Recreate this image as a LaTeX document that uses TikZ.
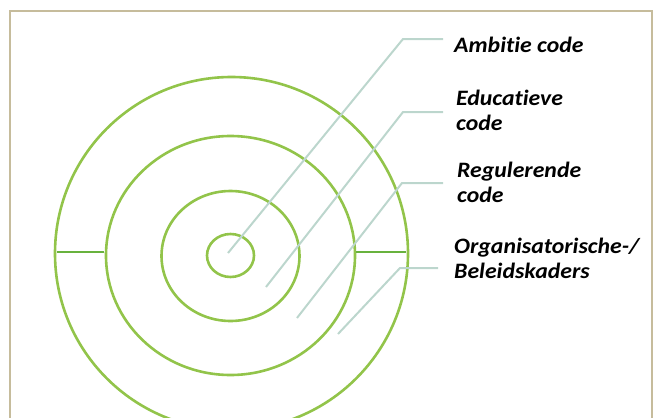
\documentclass[tikz,border=0pt]{standalone}
\usepackage{fontspec}
\newfontfamily\lblfont{Carlito}[FakeStretch=1.08, Ligatures=NoCommon]
\usepackage{tikz}
\definecolor{ringgreen}{RGB}{146,196,74}
\definecolor{bargreen}{RGB}{104,178,62}
\definecolor{leadgray}{RGB}{188,214,205}
\definecolor{frametan}{RGB}{198,188,156}
\tikzset{
  ring/.style={draw=ringgreen, line width=2.6pt},
  bar/.style={draw=bargreen, line width=1.6pt},
  leader/.style={draw=leadgray, line width=2pt},
  lbl/.style={anchor=base west, inner sep=0pt, align=left,
    font=\lblfont\bfseries\itshape\fontsize{22}{24.5}\selectfont},
}

\begin{document}
\begin{tikzpicture}[x=1pt,y=-1pt]
\useasboundingbox (0,0) rectangle (654,418);

% frame
\draw[frametan, line width=2.2pt] (10,425) -- (10,11) -- (652,11) -- (652,425);

% rings, outside in
\draw[ring] (231.5,253.5) ellipse [x radius=176.5, y radius=176.5];
\draw[ring] (230.5,255.5) ellipse [x radius=124.5, y radius=119.5];
\draw[ring] (230.5,256) ellipse [x radius=69, y radius=65];
\draw[ring] (230.5,255.5) ellipse [x radius=23.5, y radius=21.5];

% bars between the two outer rings
\draw[bar] (57,252) -- (104,252);
\draw[bar] (356,252) -- (406,252);

% labels (base = baseline of the last line)
\node[lbl] (ambitie) at (454,52) {Ambitie code};
\node[lbl] (educ) at (456,130) {Educatieve\\code};
\node[lbl] (regul) at (457,202) {Regulerende\\code};
\node[lbl] (organ) at (454,278) {Organisatorische-/\\Beleidskaders};

% leaders
\coordinate (amb0) at (228,253);  \coordinate (amb1) at (403,39);
\coordinate (edu0) at (266,287);  \coordinate (edu1) at (403,112);
\coordinate (reg0) at (297,318);  \coordinate (reg1) at (402,183);
\coordinate (org0) at (338,334);  \coordinate (org1) at (400,268);

\draw[leader, shorten >=11pt] (amb0) -- (amb1) -- (ambitie.west |- amb1);
\draw[leader, shorten >=13pt] (edu0) -- (edu1) -- (educ.west |- edu1);
\draw[leader, shorten >=14pt] (reg0) -- (reg1) -- (regul.west |- reg1);
\draw[leader, shorten >=16pt] (org0) -- (org1) -- (organ.west |- org1);

\end{tikzpicture}
\end{document}
